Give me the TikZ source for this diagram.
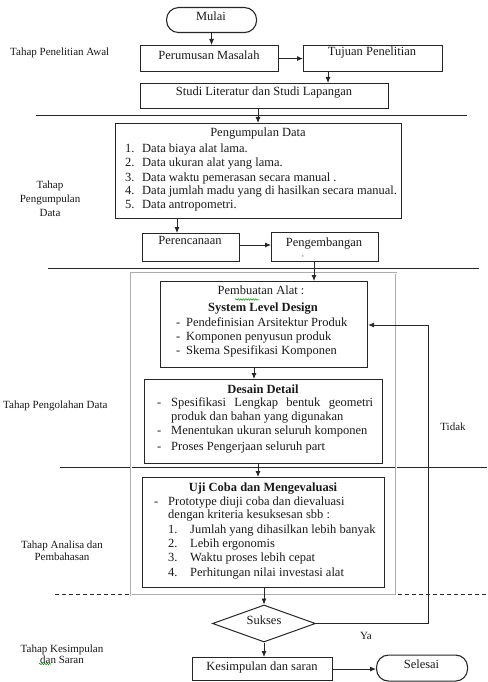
\documentclass[tikz,border=0pt]{standalone}
\usepackage{fontspec}
\setmainfont{Liberation Serif}
\usetikzlibrary{arrows.meta,shapes.geometric,decorations.pathmorphing}
\begin{document}
\begin{tikzpicture}[x=1pt,y=-1pt,
  box/.style={draw=black!85,line width=1.1pt,inner sep=0pt,anchor=north west},
  pill/.style={box,rounded corners=12pt},
  txt/.style={font=\fontsize{12.5}{14}\selectfont,inner sep=0pt,text=black!90},
  btxt/.style={font=\fontsize{12.5}{14}\selectfont\bfseries,inner sep=0pt,text=black!90},
  lbl/.style={font=\fontsize{11}{13}\selectfont,inner sep=0pt,align=center,text=black!90},
  arr/.style={-{Latex[length=6pt,width=5pt]},line width=0.8pt,draw=black!85},
  sep/.style={line width=0.8pt,draw=black!85},
  squig/.style={draw=green!55!black,line width=0.5pt,decorate,decoration={snake,amplitude=0.7pt,segment length=2.5pt}}
]
\useasboundingbox (0,0) rectangle (487,682);

% ---------- separators ----------
\draw[sep] (36,115) -- (467,115);
\draw[sep] (48,268) -- (479,268);
\draw[sep] (60,467) -- (487,467);
\draw[sep,dashed,dash pattern=on 4pt off 3pt] (55,594) -- (487,594);

% ---------- gray frame ----------
\draw[draw=gray!65,line width=0.6pt,double=white,double distance=1pt] (131,273) rectangle (396,595);

% ---------- stage labels ----------
\node[lbl,anchor=mid west] (l1) at (10,53) {Tahap Penelitian Awal};
\node[lbl,font=\fontsize{11}{14}\selectfont] (l2) at (50,199) {Tahap\\Pengumpulan\\Data};
\node[lbl,anchor=mid west] (l3) at (3,406) {Tahap Pengolahan Data};
\node[lbl,font=\fontsize{11}{12}\selectfont] (l4) at (62,551) {Tahap Analisa dan\\Pembahasan};
\node[lbl,font=\fontsize{11}{11.5}\selectfont] (l5) at (62,654) {Tahap Kesimpulan\\dan Saran};
\draw[squig] (39,664) -- (51,664);

% ---------- top ----------
\node[pill,minimum width=90pt,minimum height=25pt] (mulai) at (166,7) {};
\node[txt,anchor=mid] (tmulai) at (211,18.5) {Mulai};
\node[box,minimum width=138pt,minimum height=26pt] (perumusan) at (140,45) {};
\node[txt,anchor=mid] (tperumusan) at (209,57) {Perumusan Masalah};
\node[box,minimum width=139pt,minimum height=26pt] (tujuan) at (303,45) {};
\node[txt,anchor=mid] (ttujuan) at (372,53.5) {Tujuan Penelitian};
\node[box,minimum width=248pt,minimum height=25pt] (studi) at (140,83) {};
\node[txt,anchor=mid] (tstudi) at (264,93.5) {Studi Literatur dan Studi Lapangan};

\draw[arr] (mulai.south) -- (mulai.south |- perumusan.north);
\draw[arr] (perumusan.east) -- (tujuan.west);
\draw[arr] ([xshift=25pt]tujuan.south west) -- ([xshift=25pt]tujuan.south west |- studi.north);

% ---------- pengumpulan ----------
\node[box,minimum width=286pt,minimum height=95pt] (kumpul) at (115,123) {};
\node[txt,anchor=mid] (tkumpul) at (258,134) {Pengumpulan Data};
\node[txt,anchor=mid west] (k1n) at (125,150.5) {1.};
\node[txt,anchor=mid west] (k1) at (142,150.5) {Data biaya alat lama.};
\node[txt,anchor=mid west] (k2n) at (125,164.5) {2.};
\node[txt,anchor=mid west] (k2) at (142,164.5) {Data ukuran alat yang lama.};
\node[txt,anchor=mid west] (k3n) at (125,179) {3.};
\node[txt,anchor=mid west] (k3) at (142,179) {Data waktu pemerasan secara manual .};
\node[txt,anchor=mid west] (k4n) at (125,192.5) {4.};
\node[txt,anchor=mid west] (k4) at (142,192.5) {Data jumlah madu yang di hasilkan secara manual.};
\node[txt,anchor=mid west] (k5n) at (125,206.5) {5.};
\node[txt,anchor=mid west] (k5) at (142,206.5) {Data antropometri.};

\draw[arr] ([xshift=118pt]studi.south west) -- ([xshift=118pt]studi.south west |- kumpul.north);

\node[box,minimum width=97pt,minimum height=28pt] (rencana) at (142,233) {};
\node[txt,anchor=mid] (trencana) at (190,242) {Perencanaan};
\node[box,minimum width=107pt,minimum height=29pt] (kembang) at (271,232) {};
\node[txt,anchor=mid] (tkembang) at (324,244.5) {Pengembangan};
\node[txt,font=\fontsize{7}{7}\selectfont,anchor=mid] (tkomma) at (303,254) {,};

\draw[arr] ([xshift=35pt]rencana.north west |- kumpul.south) -- ([xshift=35pt]rencana.north west);
\draw[arr] ([yshift=-12pt]rencana.north east) -- ([yshift=-12pt]rencana.north east -| kembang.west);

% ---------- pembuatan alat ----------
\node[box,minimum width=207pt,minimum height=86pt] (buat) at (160,281) {};
\node[txt,anchor=mid] (tbuat) at (261,292.5) {Pembuatan Alat :};
\draw[squig] (235,299.5) -- (259,299.5);
\node[btxt,anchor=mid] (tsld) at (263,309.5) {System Level Design};
\node[txt,anchor=mid west] (b1d) at (176,324.5) {-};
\node[txt,anchor=mid west] (b1) at (186,324.5) {Pendefinisian Arsitektur Produk};
\node[txt,anchor=mid west] (b2d) at (176,338.5) {-};
\node[txt,anchor=mid west] (b2) at (186,338.5) {Komponen penyusun produk};
\node[txt,anchor=mid west] (b3d) at (176,352.5) {-};
\node[txt,anchor=mid west] (b3) at (186,352.5) {Skema Spesifikasi Komponen};

\draw[arr] ([xshift=43pt]kembang.south west) -- ([xshift=43pt]kembang.south west |- buat.north);

% ---------- desain detail ----------
\node[box,minimum width=238pt,minimum height=84pt] (desain) at (144,379) {};
\node[btxt,anchor=mid] (tdesain) at (263,391.5) {Desain Detail};
\node[txt,anchor=mid west] (d1d) at (157,404.5) {-};
\node[txt,anchor=mid west] (d1) at (171,404.5) {\hbox to 202pt{Spesifikasi\hfill Lengkap\hfill bentuk\hfill geometri}};
\node[txt,anchor=mid west] (d1b) at (171,418) {produk dan bahan yang digunakan};
\node[txt,anchor=mid west] (d2d) at (157,432.5) {-};
\node[txt,anchor=mid west] (d2) at (171,432.5) {Menentukan ukuran seluruh komponen};
\node[txt,anchor=mid west] (d3d) at (157,448.5) {-};
\node[txt,anchor=mid west] (d3) at (171,448.5) {Proses Pengerjaan seluruh part};

\draw[arr] ([xshift=94pt]buat.south west) -- ([xshift=94pt]buat.south west |- desain.north);

% ---------- uji coba ----------
\node[box,minimum width=242pt,minimum height=110pt] (uji) at (142,477) {};
\node[btxt,anchor=mid] (tuji) at (263,489.5) {Uji Coba dan Mengevaluasi};
\node[txt,anchor=mid west] (u0d) at (154,503) {-};
\node[txt,anchor=mid west] (u0) at (168,503) {Prototype diuji coba dan dievaluasi};
\node[txt,anchor=mid west] (u0b) at (168,516.5) {dengan kriteria kesuksesan sbb :};
\node[txt,anchor=mid west] (u1n) at (168,531.5) {1.};
\node[txt,anchor=mid west] (u1) at (190,531.5) {Jumlah yang dihasilkan lebih banyak};
\node[txt,anchor=mid west] (u2n) at (168,545.5) {2.};
\node[txt,anchor=mid west] (u2) at (190,545.5) {Lebih ergonomis};
\node[txt,anchor=mid west] (u3n) at (168,559.5) {3.};
\node[txt,anchor=mid west] (u3) at (190,559.5) {Waktu proses lebih cepat};
\node[txt,anchor=mid west] (u4n) at (168,574) {4.};
\node[txt,anchor=mid west] (u4) at (190,574) {Perhitungan nilai investasi alat};

\draw[arr] ([xshift=114pt]desain.south west) -- ([xshift=114pt]desain.south west |- uji.north);

% ---------- decision & end ----------
\node[draw=black!85,line width=1pt,diamond,shape aspect=2.8,minimum width=103pt,minimum height=37pt,inner sep=0pt] (sukses) at (264,623.5) {};
\node[txt,anchor=mid] (tsukses) at (264,622.5) {Sukses};
\draw[arr] (sukses.north |- uji.south) -- (sukses.north);

\node[box,minimum width=140pt,minimum height=23pt] (simpul) at (192,657) {};
\node[txt,anchor=mid] (tsimpul) at (262,668) {Kesimpulan dan saran};
\node[pill,minimum width=91pt,minimum height=26pt] (selesai) at (376,654.5) {};
\node[txt,anchor=mid] (tselesai) at (421.5,666.5) {Selesai};

\draw[arr] (sukses.south) -- (sukses.south |- simpul.north);
\draw[arr] (simpul.east) -- (simpul.east -| selesai.west);

\coordinate (fb) at (428,325);
\draw[arr] (sukses.east) -| (fb) -- (fb -| buat.east);

\node[lbl,anchor=mid] (ttidak) at (453,428.5) {Tidak};
\node[lbl,anchor=mid] (tya) at (366,637.5) {Ya};
\end{tikzpicture}
\end{document}
